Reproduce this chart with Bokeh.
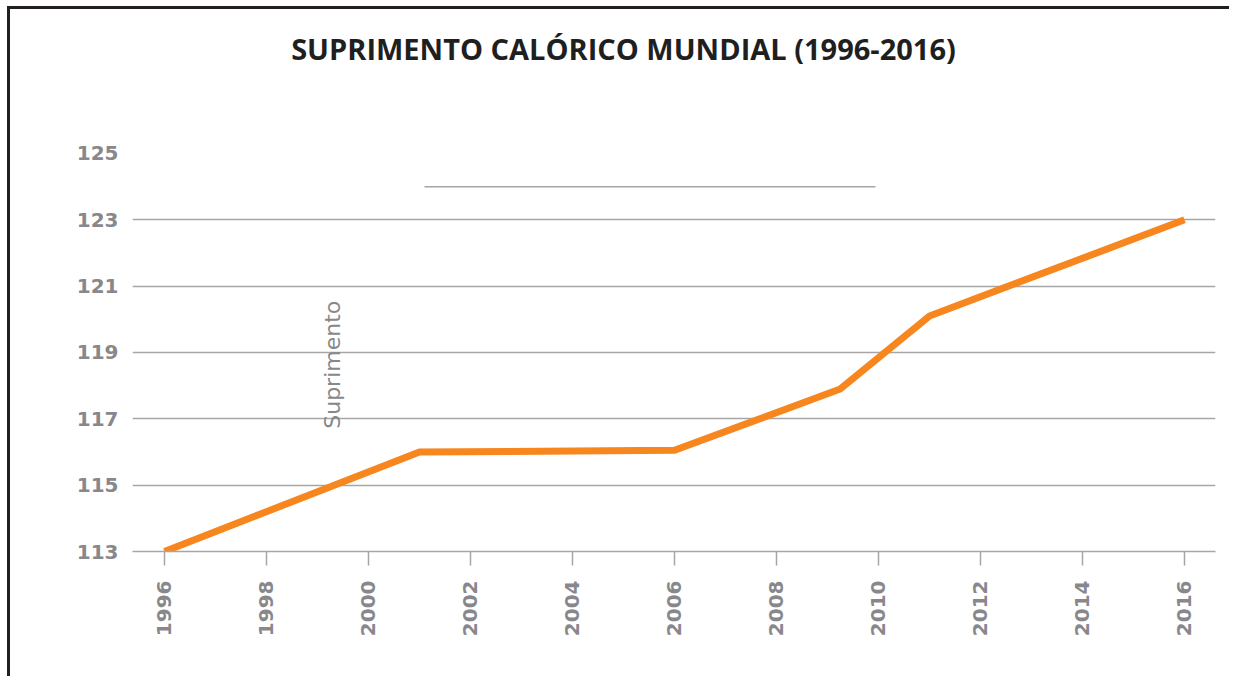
import math
from bokeh.plotting import figure
from bokeh.models import Range1d, FixedTicker, Label, ColumnDataSource
from bokeh.embed import file_html
from bokeh.resources import INLINE

# ---- data ----
years = [1996, 2001, 2006, 2009.25, 2011, 2016]
supply = [113.0, 116.0, 116.05, 117.9, 120.1, 123.0]
y_ticks = [113, 115, 117, 119, 121, 123, 125]
grid_ticks = [115, 117, 119, 121, 123]
x_ticks = [1996, 1998, 2000, 2002, 2004, 2006, 2008, 2010, 2012, 2014, 2016]
title_text = "SUPRIMENTO CALÓRICO MUNDIAL (1996-2016)"
stray_label = "Suprimento"
stray_line_x = [2001.1, 2009.94]
stray_line_y = [124.0, 124.0]

GRAY = "#a6a6a6"
LABEL = "#88888c"

p = figure(width=1222, height=670, output_backend="svg", toolbar_location=None,
           x_range=Range1d(1995.373, 2016.608), y_range=Range1d(113, 129.34),
           min_border_left=122, min_border_right=17, min_border_top=0,
           min_border_bottom=128)
p.styles = {"border-top": "3px solid #231f20", "border-left": "3px solid #231f20",
            "margin-left": "7px", "margin-top": "6px"}
p.outline_line_color = None
p.background_fill_color = "white"
p.border_fill_color = "white"

# grid
p.xgrid.grid_line_color = None
p.ygrid.ticker = FixedTicker(ticks=grid_ticks)
p.ygrid.grid_line_color = GRAY
p.ygrid.grid_line_width = 1.5

# y axis
p.yaxis.ticker = FixedTicker(ticks=y_ticks)
p.yaxis.axis_line_color = None
p.yaxis.major_tick_line_color = None
p.yaxis.minor_tick_line_color = None
p.yaxis.major_label_standoff = 8
p.yaxis.major_label_text_font = "DejaVu Sans"
p.yaxis.major_label_text_font_style = "bold"
p.yaxis.major_label_text_font_size = "20px"
p.yaxis.major_label_text_color = LABEL

# x axis
p.xaxis.ticker = FixedTicker(ticks=x_ticks)
p.xaxis.axis_line_color = GRAY
p.xaxis.axis_line_width = 1.5
p.xaxis.major_tick_line_color = GRAY
p.xaxis.major_tick_line_width = 1.5
p.xaxis.major_tick_in = 0
p.xaxis.major_tick_out = 14
p.xaxis.minor_tick_line_color = None
p.xaxis.major_label_orientation = math.pi / 2
p.xaxis.major_label_standoff = 15
p.xaxis.major_label_text_font = "DejaVu Sans"
p.xaxis.major_label_text_font_style = "bold"
p.xaxis.major_label_text_font_size = "20px"
p.xaxis.major_label_text_color = LABEL

# stray decoration line
p.line(stray_line_x, stray_line_y, line_color=GRAY, line_width=1.5)

# stray vertical label
p.add_layout(Label(x=1999.3, y=116.7, text=stray_label, angle=math.pi / 2,
                   text_font="DejaVu Sans", text_font_size="22px",
                   text_color=LABEL, text_align="left", text_baseline="middle"))

# main series
src = ColumnDataSource(dict(x=years, y=supply))
p.line("x", "y", source=src, line_color="#f7861f", line_width=7, line_join="miter")

# title
p.add_layout(Label(x=2005.0, y=128.16, text=title_text, text_font="Open Sans",
                   text_font_style="bold", text_font_size="29px", text_color="#1f1f1f",
                   text_align="center", text_baseline="middle"))

open("out.html", "w").write(file_html(p, INLINE))
